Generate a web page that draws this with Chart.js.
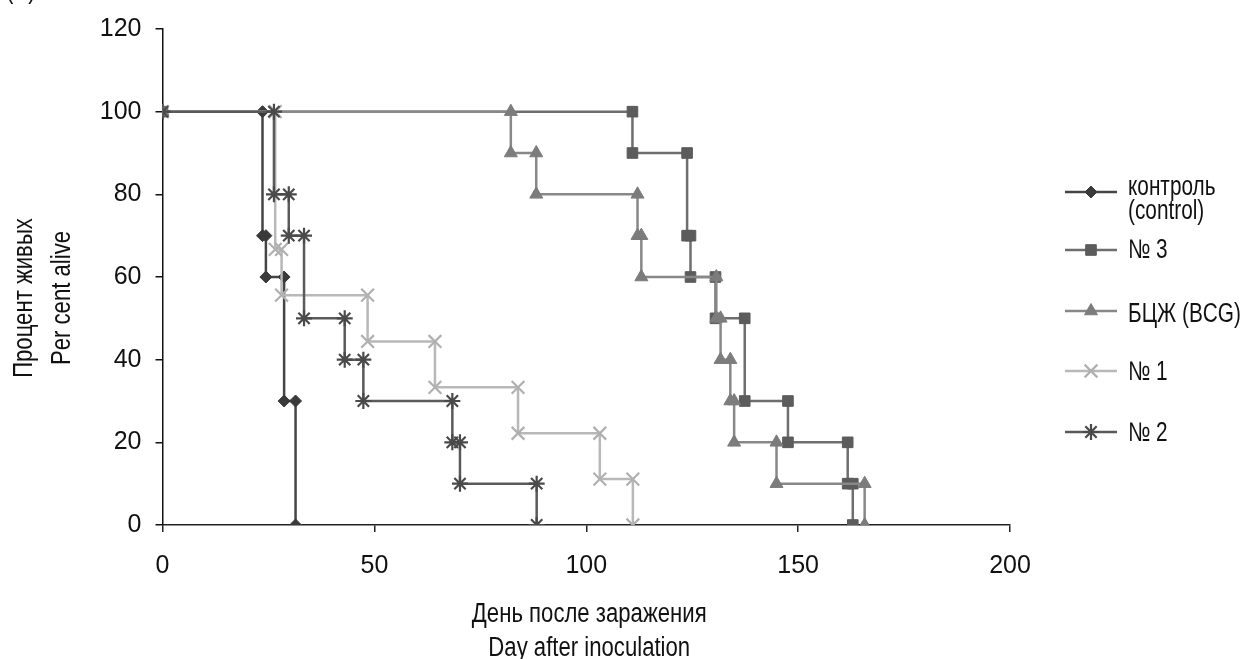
<!DOCTYPE html>
<html lang="ru">

<head>
    <meta charset="UTF-8">
    <title>Процент живых</title>
    <script src="https://cdn.jsdelivr.net/npm/chart.js@4.4.1/dist/chart.umd.min.js"></script>
    <style>
        * {
            margin: 0;
            padding: 0;
        }

        body {
            background: #fff;
        }

        #box {
            position: relative;
            width: 1247px;
            height: 659px;
        }
    </style>
</head>

<body>
    <div id="box">
        <canvas id="survivalCanvas"></canvas>
    </div>

    <script>
        // days and per cent alive (step vertices)
        const dayControl = [0, 23.6, 23.6, 24.4, 24.4, 28.7, 28.7, 31.4, 31.4]
        const aliveControl = [100, 100, 70, 70, 60, 60, 30, 30, 0]

        const dayN3 = [0, 110.9, 110.9, 123.8, 123.8, 124.6, 124.6, 130.5, 130.5, 137.4, 137.4, 147.6, 147.6, 161.7, 161.7, 162.9, 162.9]
        const aliveN3 = [100, 100, 90, 90, 70, 70, 60, 60, 50, 50, 30, 30, 20, 20, 10, 10, 0]

        const dayBCG = [0, 82.2, 82.2, 88.2, 88.2, 112.1, 112.1, 113.0, 113.0, 130.7, 130.7, 131.7, 131.7, 134.0, 134.0, 134.9, 134.9, 144.9, 144.9, 165.7, 165.7]
        const aliveBCG = [100, 100, 90, 90, 80, 80, 70, 70, 60, 60, 50, 50, 40, 40, 30, 30, 20, 20, 10, 10, 0]

        const dayN1 = [0, 26.6, 26.6, 28.1, 28.1, 48.4, 48.4, 64.3, 64.3, 83.9, 83.9, 103.2, 103.2, 111.0, 111.0]
        const aliveN1 = [100, 100, 66.7, 66.7, 55.6, 55.6, 44.4, 44.4, 33.3, 33.3, 22.2, 22.2, 11.1, 11.1, 0]

        const dayN2 = [0, 26.3, 26.3, 29.8, 29.8, 33.4, 33.4, 43.0, 43.0, 47.4, 47.4, 68.4, 68.4, 70.2, 70.2, 88.3, 88.3]
        const aliveN2 = [100, 100, 80, 80, 70, 70, 50, 50, 40, 40, 30, 30, 20, 20, 10, 10, 0]

        const seriesNames = [['контроль', '(control)'], ['№ 3'], ['БЦЖ (BCG)'], ['№ 1'], ['№ 2']]
        const yTitle = ['Процент живых', 'Per cent alive']
        const xTitle = ['День после заражения', 'Day after inoculation']

        const FONT = "'Liberation Sans', Arial, sans-serif"
        // the original lettering is narrower than Liberation Sans
        const SQUEEZE_TITLE = 0.82
        const SQUEEZE_LEGEND = 0.77
        Chart.defaults.font.family = FONT
        Chart.defaults.font.size = 25
        Chart.defaults.color = '#111'

        function zip(xs, ys) {
            return xs.map(function (x, i) {
                return { x: x, y: ys[i] }
            })
        }

        function series(name, xs, ys, line, mark, style, radius) {
            return {
                label: name.join(' '),
                legendLines: name,
                data: zip(xs, ys),
                borderColor: line,
                borderWidth: 2.5,
                pointStyle: style,
                pointRadius: radius,
                pointBackgroundColor: mark,
                pointBorderColor: mark,
                pointBorderWidth: (style === 'crossRot' || style === 'star') ? 2.2 : 1,
                tension: 0,
            }
        }

        const datasets = [
            series(seriesNames[4], dayN2, aliveN2, '#5a5a5a', '#4a4a4a', 'star', 8),
            series(seriesNames[3], dayN1, aliveN1, '#b8b8b8', '#b0b0b0', 'crossRot', 9),
            series(seriesNames[2], dayBCG, aliveBCG, '#888888', '#7c7c7c', 'triangle', 7.5),
            series(seriesNames[1], dayN3, aliveN3, '#6e6e6e', '#5c5c5c', 'rect', 7.5),
            series(seriesNames[0], dayControl, aliveControl, '#454545', '#3a3a3a', 'rectRot', 6),
        ]

        // legend in picture order: control, №3, BCG, №1, №2
        const legendRows = [
            { ds: 4, y: 192, base: [195, 219] },
            { ds: 3, y: 250, base: [258] },
            { ds: 2, y: 311, base: [322] },
            { ds: 1, y: 371, base: [380] },
            { ds: 0, y: 432, base: [441] },
        ]

        function squeezedText(ctx, text, x, y, k) {
            ctx.save()
            ctx.translate(x, y)
            ctx.scale(k, 1)
            ctx.fillText(text, 0, 0)
            ctx.restore()
        }

        const textPlugin = {
            id: 'textPlugin',
            afterDraw: function (chart) {
                const ctx = chart.ctx
                ctx.save()
                ctx.fillStyle = '#111'
                ctx.font = '27px ' + FONT
                ctx.textBaseline = 'alphabetic'

                // clipped panel letter
                ctx.textAlign = 'left'
                squeezedText(ctx, '(A)', 6, -2, SQUEEZE_TITLE)

                // y title, rotated
                ctx.save()
                ctx.translate(0, 298)
                ctx.rotate(-Math.PI / 2)
                ctx.textAlign = 'center'
                squeezedText(ctx, yTitle[0], 0, 32, SQUEEZE_TITLE)
                squeezedText(ctx, yTitle[1], 0, 70, SQUEEZE_TITLE)
                ctx.restore()

                // x title
                const cx = (chart.chartArea.left + chart.chartArea.right) / 2 + 3
                ctx.textAlign = 'center'
                squeezedText(ctx, xTitle[0], cx, 622, SQUEEZE_TITLE)
                squeezedText(ctx, xTitle[1], cx, 656, SQUEEZE_TITLE)

                // legend
                ctx.textAlign = 'left'
                legendRows.forEach(function (row) {
                    const ds = chart.data.datasets[row.ds]
                    ctx.strokeStyle = ds.borderColor
                    ctx.lineWidth = 2.5
                    ctx.beginPath()
                    ctx.moveTo(1065, row.y)
                    ctx.lineTo(1117, row.y)
                    ctx.stroke()
                    if (Chart.helpers && Chart.helpers.drawPoint) {
                        ctx.fillStyle = ds.pointBackgroundColor
                        ctx.strokeStyle = ds.pointBorderColor
                        ctx.lineWidth = ds.pointBorderWidth
                        Chart.helpers.drawPoint(ctx, { pointStyle: ds.pointStyle, radius: ds.pointRadius, borderWidth: ds.pointBorderWidth, rotation: 0 }, 1091, row.y)
                    }
                    ctx.fillStyle = '#111'
                    ds.legendLines.forEach(function (t, i) {
                        squeezedText(ctx, t, 1128, row.base[i], SQUEEZE_LEGEND)
                    })
                })
                ctx.restore()
            }
        }

        const config = {
            type: 'line',
            data: { datasets: datasets },
            options: {
                responsive: true,
                maintainAspectRatio: false,
                animation: false,
                layout: {
                    padding: { left: 0, right: 237, top: 26, bottom: 0 }
                },
                plugins: {
                    legend: { display: false },
                    tooltip: { enabled: false },
                },
                scales: {
                    x: {
                        type: 'linear',
                        min: 0,
                        max: 200,
                        ticks: { stepSize: 50, padding: 19, color: '#111' },
                        grid: { drawOnChartArea: false, drawTicks: true, tickLength: 7, color: '#222', lineWidth: 1.5 },
                        border: { display: true, color: '#222', width: 1.5 },
                        afterFit: function (scale) {
                            scale.height = 134
                        }
                    },
                    y: {
                        min: 0,
                        max: 120,
                        ticks: { stepSize: 20, padding: 14, color: '#111' },
                        grid: { drawOnChartArea: false, drawTicks: true, tickLength: 7, color: '#111', lineWidth: 1.5 },
                        border: { display: true, color: '#111', width: 1.5 },
                        afterFit: function (scale) {
                            scale.width = 162.5
                        }
                    }
                }
            },
            plugins: [textPlugin]
        }

        new Chart(document.getElementById('survivalCanvas'), config)
    </script>
</body>

</html>
